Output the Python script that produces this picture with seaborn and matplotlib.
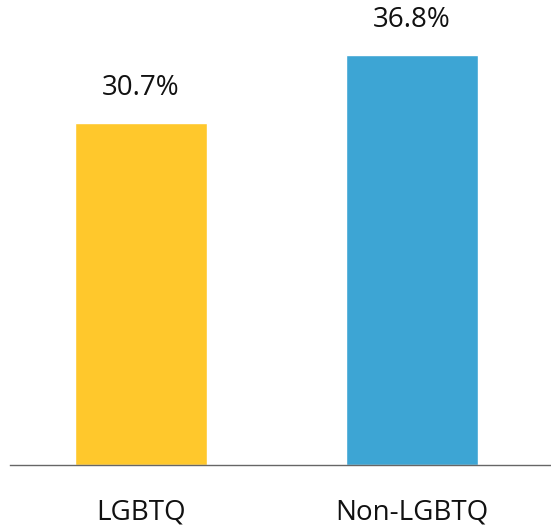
import matplotlib
matplotlib.use("Agg")
import matplotlib.pyplot as plt
import seaborn as sns
import pandas as pd

categories = ["LGBTQ", "Non-LGBTQ"]
values = [30.7, 36.8]
labels = ["30.7%", "36.8%"]
colors = ["#FFC82C", "#3DA5D4"]

sns.set_style("white")
plt.rcParams['font.family'] = ['Open Sans', 'DejaVu Sans']

df = pd.DataFrame({"cat": categories, "val": values})

fig = plt.figure(figsize=(5.51, 5.27), dpi=100)
ax = fig.add_axes([10/551, 62/527, 541/551, 465/527])
sns.barplot(data=df, x="cat", y="val", hue="cat", palette=colors, width=0.487,
            ax=ax, legend=False, saturation=1)

ax.set_xlim(-0.483, 1.513)
ax.set_ylim(0, 465/11.14)
for s in ["top", "right", "left"]:
    ax.spines[s].set_visible(False)
ax.spines["bottom"].set_color("#666666")
ax.spines["bottom"].set_linewidth(1.0)
ax.set_yticks([])
ax.set_xlabel("")
ax.set_ylabel("")
ax.tick_params(axis="x", length=0, pad=24, labelsize=20, labelcolor="#111111")

for i, (v, lab) in enumerate(zip(values, labels)):
    ax.annotate(lab, (i, v), xytext=(0, 15), textcoords="offset points",
                ha="center", va="bottom", fontsize=20, color="#111111")

fig.savefig("out.png", dpi=100)
